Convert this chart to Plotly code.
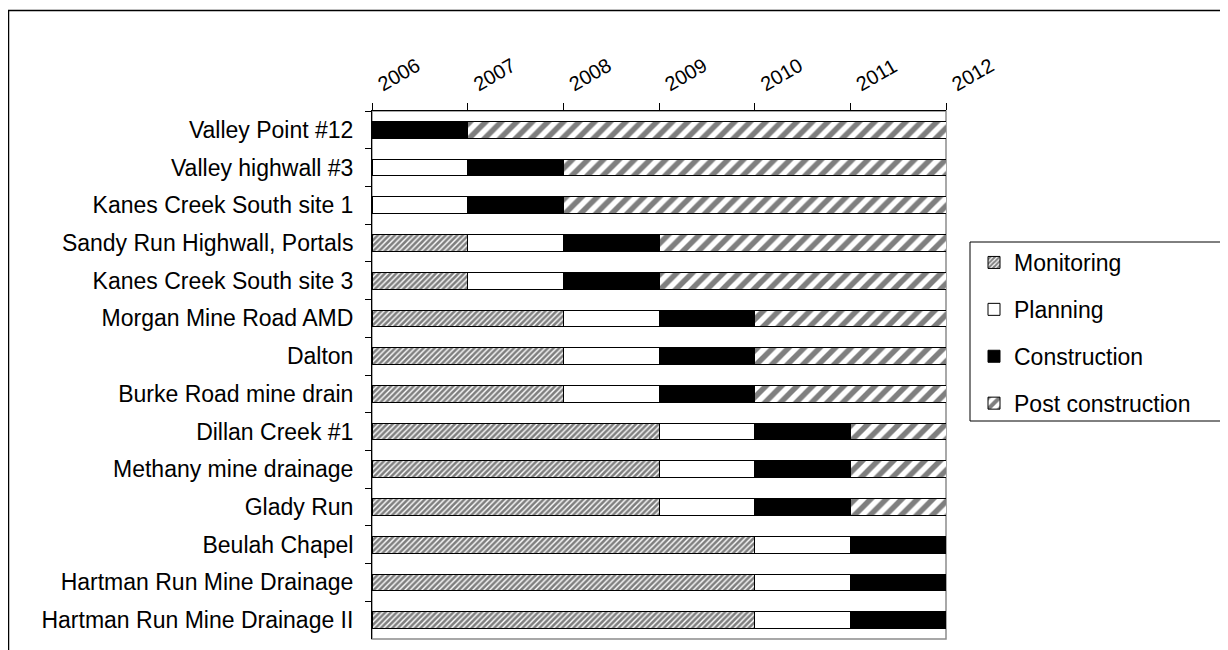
import plotly.graph_objects as go

projects = [
    "Valley Point #12",
    "Valley highwall #3",
    "Kanes Creek South site 1",
    "Sandy Run Highwall, Portals",
    "Kanes Creek South site 3",
    "Morgan Mine Road AMD",
    "Dalton",
    "Burke Road mine drain",
    "Dillan Creek #1",
    "Methany mine drainage",
    "Glady Run",
    "Beulah Chapel",
    "Hartman Run Mine Drainage",
    "Hartman Run Mine Drainage II",
]
# durations in years, starting at 2006
monitoring = [0, 0, 0, 1, 1, 2, 2, 2, 3, 3, 3, 4, 4, 4]
planning = [0, 1, 1, 1, 1, 1, 1, 1, 1, 1, 1, 1, 1, 1]
construction = [1, 1, 1, 1, 1, 1, 1, 1, 1, 1, 1, 1, 1, 1]
post_construction = [5, 4, 4, 3, 3, 2, 2, 2, 1, 1, 1, 0, 0, 0]
years = ["2006", "2007", "2008", "2009", "2010", "2011", "2012"]

# the page body has an 8px margin; work in screen pixels and subtract it
OFF = 8
W, H = 1228 - OFF, 650 - OFF
L, R, T, B = 372 - OFF, 946 - OFF, 111 - OFF, 639 - OFF
pw, ph = R - L, B - T


def px_x(x):
    return (x - OFF - L) / pw


def px_y(y):
    return (B - (y - OFF)) / ph


def nz(vals):
    return [v if v else None for v in vals]


FONT = "Liberation Sans, Arial, sans-serif"

series = [
    ("Monitoring", monitoring, dict(color="white", pattern=dict(shape="/", size=4, solidity=0.65, fgcolor="black", bgcolor="white"))),
    ("Planning", planning, dict(color="white")),
    ("Construction", construction, dict(color="black")),
    ("Post construction", post_construction, dict(color="white", pattern=dict(shape="/", size=11, solidity=0.5, fgcolor="black", bgcolor="white"))),
]

fig = go.Figure()
for name, vals, marker in series:
    marker = dict(marker)
    marker["line"] = dict(color="black", width=1)
    fig.add_trace(go.Bar(
        y=projects, x=nz(vals), name=name, orientation="h",
        marker=marker, legendgroup=name,
    ))

fig.update_layout(
    width=W, height=H,
    margin=dict(l=L, r=W - R, t=T, b=H - B, pad=0),
    barmode="stack",
    bargap=0.56,
    paper_bgcolor="white",
    plot_bgcolor="white",
    font=dict(family=FONT, size=23, color="black"),
    showlegend=True,
    legend=dict(
        x=px_x(974), y=px_y(241), xanchor="left", yanchor="top",
        traceorder="grouped", tracegroupgap=14, itemwidth=30,
        font=dict(family=FONT, size=23, color="black"),
        bgcolor="rgba(0,0,0,0)", borderwidth=0,
    ),
    xaxis=dict(
        side="top", range=[0, 6], tickmode="array",
        tickvals=list(range(len(years))), ticktext=years,
        tickangle=-30, ticks="outside", ticklen=7, tickcolor="black",
        showline=True, linecolor="black", linewidth=1,
        showgrid=False, zeroline=False,
        ticklabelshift=6, ticklabelstandoff=2,
        tickfont=dict(family=FONT, size=20, color="black"),
    ),
    yaxis=dict(
        categoryorder="array", categoryarray=projects, autorange="reversed",
        ticks="outside", ticklen=6, tickcolor="black", tickson="boundaries",
        showline=True, linecolor="black", linewidth=1,
        showgrid=False, zeroline=False,
        ticklabelstandoff=13,
        tickfont=dict(family=FONT, size=23, color="black"),
    ),
    shapes=[
        # plot area border (gray)
        dict(type="rect", xref="paper", yref="paper", x0=0, x1=1, y0=0, y1=1,
             line=dict(color="#8c8c8c", width=1.5), layer="below"),
        # outer chart border
        dict(type="rect", xref="paper", yref="paper",
             x0=px_x(8.5), x1=px_x(1300), y0=px_y(700), y1=px_y(10.5),
             line=dict(color="black", width=1.5)),
        # legend box
        dict(type="rect", xref="paper", yref="paper",
             x0=px_x(970), x1=px_x(1224), y0=px_y(421), y1=px_y(242),
             line=dict(color="black", width=1)),
    ],
)

fig.write_html("out.html")
